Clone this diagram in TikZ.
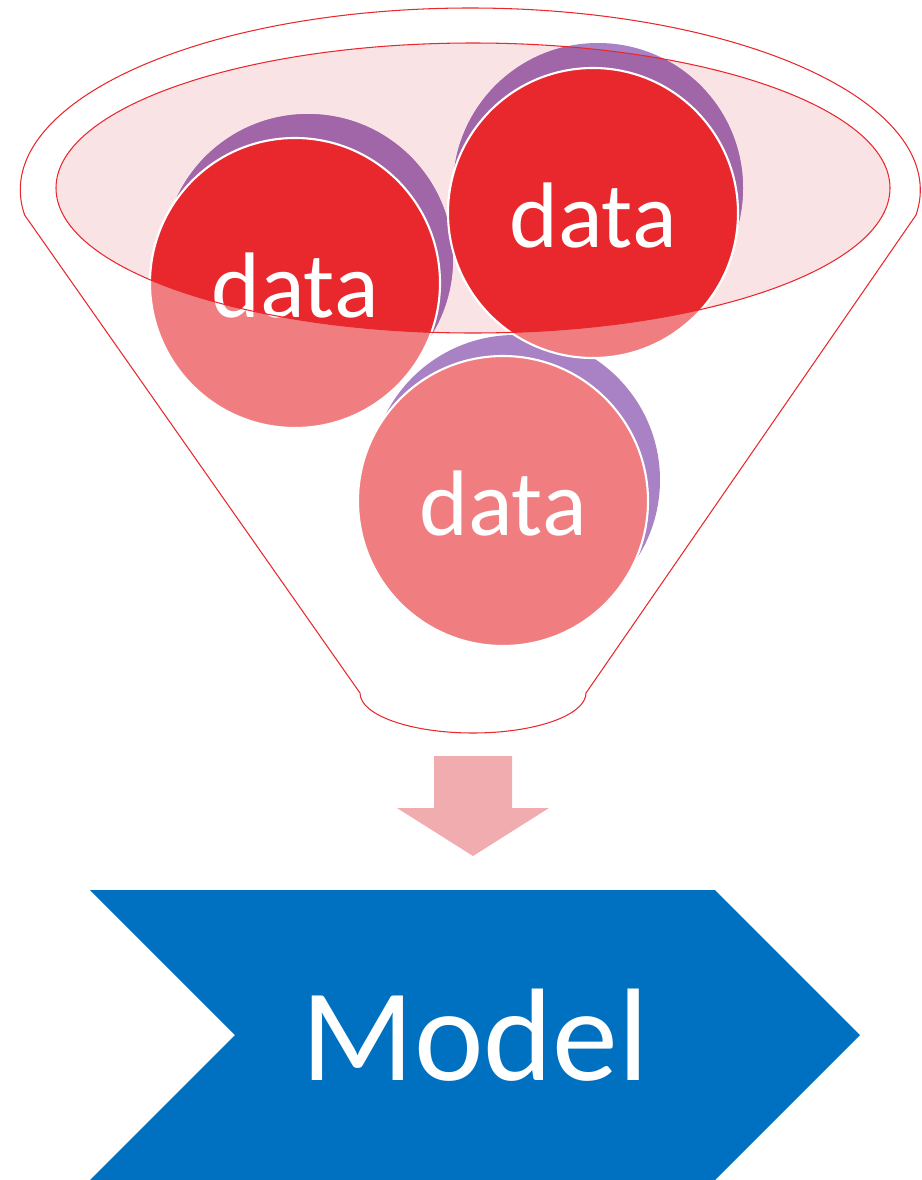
\documentclass[tikz,border=0pt]{standalone}
\usepackage{fontspec}
\setmainfont{Carlito}
\definecolor{funnelred}{HTML}{E8282D}
\definecolor{softred}{HTML}{F07E80}
\definecolor{funnelpink}{HTML}{FAE3E5}
\definecolor{deeppurple}{HTML}{A066A8}
\definecolor{softpurple}{HTML}{A882C4}
\definecolor{arrowpink}{HTML}{F0ACAE}
\definecolor{modelblue}{HTML}{0070C0}

\begin{document}
\begin{tikzpicture}[x=0.02cm,y=-0.02cm,
  datatext/.style={text=white,anchor=base,inner sep=0pt,font=\fontsize{53}{53}\selectfont},
  modeltext/.style={text=white,anchor=base,inner sep=0pt,font=\fontsize{75}{75}\selectfont},
  ring/.style={draw=white,line width=1.2pt}]
  \useasboundingbox (0,0) rectangle (921,1180);
  % centres of the three balls and their shadows
  \coordinate (cC) at (503,501);  \coordinate (sC) at (515,480);
  \coordinate (cA) at (295,283);  \coordinate (sA) at (308,259);
  \coordinate (cB) at (593,213);  \coordinate (sB) at (598,188);
  \coordinate (mouth) at (473,188);
  % mouth of the funnel
  \fill[funnelpink] (mouth) ellipse[x radius=417,y radius=145];
  \foreach \c/\s in {cC/sC,cA/sA,cB/sB}{
    \fill[softpurple] (\s) circle[radius=145];
    \fill[softred,ring] (\c) circle[radius=145];
  }
  % the part inside the mouth is darker
  \begin{scope}
    \clip (mouth) ellipse[x radius=417,y radius=145];
    \foreach \c/\s in {cC/sC,cA/sA,cB/sB}{
      \fill[deeppurple] (\s) circle[radius=145];
      \fill[funnelred,ring] (\c) circle[radius=145];
    }
  \end{scope}
  \node[datatext] (dataA) at (295,317) {data};
  \node[datatext] (dataB) at (593,247) {data};
  \node[datatext] (dataC) at (503,535) {data};
  \draw[funnelred,line width=0.6pt] (mouth) ellipse[x radius=417,y radius=145];
  % funnel outline
  \draw[funnelred,line width=0.6pt] (24.6,215)
    arc[start angle=172.1,end angle=367.9,x radius=450,y radius=182]
    -- (586,693) arc[start angle=0,end angle=180,x radius=113,y radius=40] -- cycle;
  % down arrow
  \fill[arrowpink] (434,756) -- (512,756) -- (512,808) -- (549,808)
    -- (473,856) -- (397,808) -- (434,808) -- cycle;
  % chevron
  \fill[modelblue] (90,890) -- (715,890) -- (860,1035) -- (715,1180)
    -- (90,1180) -- (235,1035) -- cycle;
  \node[modeltext] (model) at (475,1080) {Model};
\end{tikzpicture}
\end{document}
